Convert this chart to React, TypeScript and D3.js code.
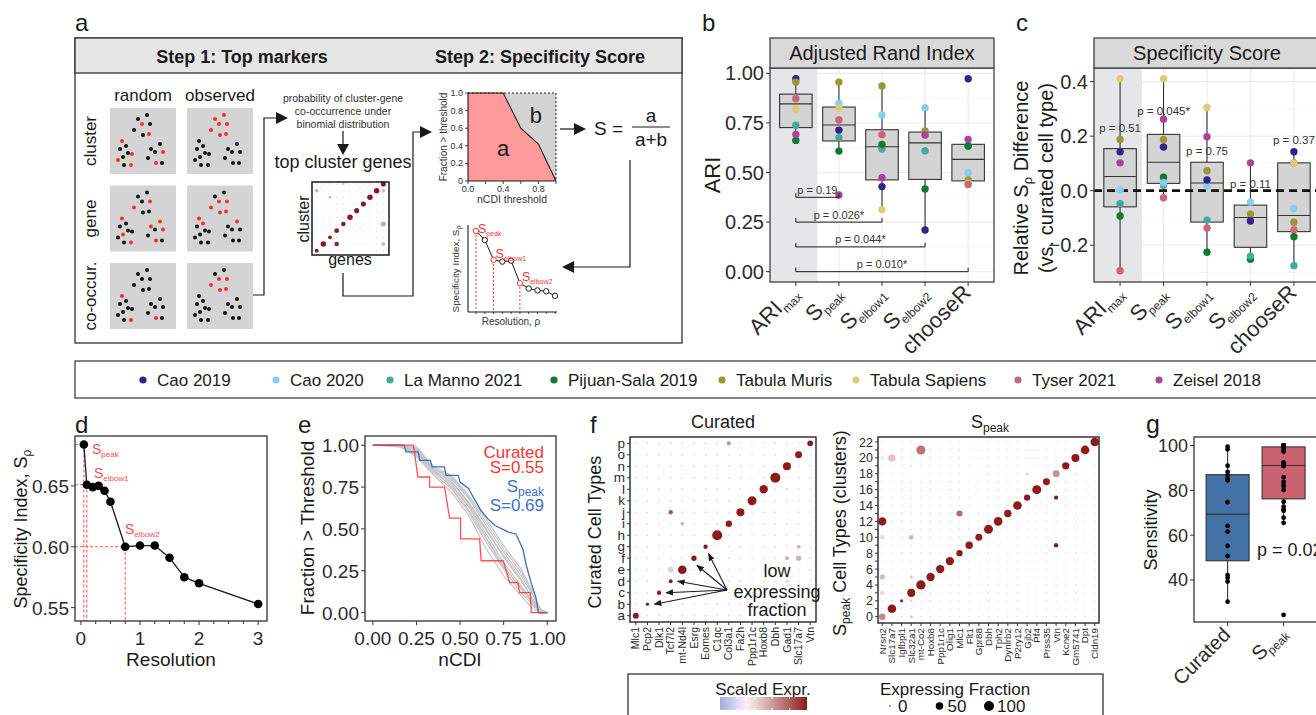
import React, { useEffect, useRef } from "react";
import * as d3 from "d3";

const FONT = '"Liberation Sans", Arial, Helvetica, sans-serif';
const INK = "#1a1a1a";
const AXIS = "#333333";
const TICKTXT = "#2b2b2b";
const SALMON = "#ff4d4d";

// ---------- panel a (schematic) ----------
const tileCols = ["random", "observed"];
const tileRows = ["cluster", "gene", "co-occur."];
// dot layout inside one 66px tile
const tileDots = [[28, 11], [37, 7], [40, 16], [24, 22], [32, 16], [33, 27], [39, 26], [12, 33], [16, 38], [10, 41], [18, 45], [13, 49], [22, 46], [8, 52], [14, 57], [21, 57], [41, 41], [50, 36], [45, 44], [53, 44], [38, 50], [46, 55], [52, 55]];
// red dots per tile, [row][col]
const tileRed = [
  [[4, 6, 7, 12, 13, 15, 19, 21], [0, 1, 2, 3, 4, 5, 6]],
  [[2, 3, 7, 11, 15, 16, 17, 19, 21], [2, 3, 4, 5, 6, 7, 8, 17]],
  [[7, 15, 21], [2, 3, 4, 5, 6]],
];
const miniDiagFrac = [0.3, 0.7, 0.3, 0.5, 0.45, 0.7, 0.6, 0.6, 0.7, 0.7, 0.6];
const miniOffDiag = [[0, 9, 0.3, 0.35], [2, 8, 0.15, 0.3], [3, 1, 0.45, 1.4], [10, 9, 0.3, 0.3], [10, 4, 0.6, 0.45], [10, 1, 0.3, 0.3], [4, 10, 0.1, 0.3]];
const ecdfSketch = [[0, 1], [0.4, 1], [0.6, 0.6], [0.8, 0.42], [1, 0]];
const ecdfTicks = [0, 0.2, 0.4, 0.6, 0.8, 1.0];
const specSketch = [0.9, 0.8, 0.58, 0.56, 0.57, 0.32, 0.26, 0.24, 0.23, 0.18];
const specSketchMarked = [0, 2, 5];
const specSketchNames = ["peak", "elbow1", "elbow2"];

// ---------- panels b / c ----------
const methods = ["ARImax", "Speak", "Selbow1", "Selbow2", "chooseR"];
const methodMain = ["ARI", "S", "S", "S", "chooseR"];
const methodSub = ["max", "peak", "elbow1", "elbow2", ""];
const datasets = ["Cao 2019", "Cao 2020", "La Manno 2021", "Pijuan-Sala 2019", "Tabula Muris", "Tabula Sapiens", "Tyser 2021", "Zeisel 2018"];
const datasetColors = ["#332288", "#88CCEE", "#44AA99", "#117733", "#999933", "#DDCC77", "#CC6677", "#AA4499"];

const ariARImax = [0.973, 0.875, 0.738, 0.662, 0.956, 0.820, 0.872, 0.692];
const ariSpeak = [0.714, 0.849, 0.676, 0.608, 0.956, 0.824, 0.765, 0.387];
const ariSelbow1 = [0.429, 0.790, 0.618, 0.642, 0.936, 0.313, 0.691, 0.474];
const ariSelbow2 = [0.210, 0.827, 0.610, 0.417, 0.709, null, null, 0.689];
const ariChooseR = [0.973, 0.499, 0.634, 0.634, 0.462, 0.445, 0.440, 0.667];
const ariPTargets = ["Speak", "Selbow1", "Selbow2", "chooseR"];
const ariPLabels = ["p = 0.19", "p = 0.026*", "p = 0.044*", "p = 0.010*"];
const ariPLevels = [0.375, 0.25, 0.125, 0.0];

const relARImax = [0.143, 0.002, -0.048, -0.093, 0.188, 0.411, -0.294, 0.102];
const relSpeak = [0.160, 0.029, 0.020, 0.049, 0.188, 0.411, -0.026, 0.262];
const relSelbow1 = [0.039, 0.017, -0.108, -0.226, 0.073, 0.305, -0.137, 0.198];
const relSelbow2 = [-0.111, -0.042, -0.240, -0.252, -0.086, null, null, 0.102];
const relChooseR = [0.143, -0.066, -0.275, -0.169, -0.116, 0.102, -0.144, 0.102];
const relPLabels = ["p = 0.51", "p = 0.045*", "p = 0.75", "p = 0.11", "p = 0.37"];
const relPLevels = [0.23, 0.292, 0.147, 0.025, 0.186];

// ---------- panel d ----------
const resolution = [0.05, 0.1, 0.2, 0.3, 0.4, 0.5, 0.75, 1, 1.25, 1.5, 1.75, 2, 3];
const specIndex = [0.684, 0.651, 0.649, 0.650, 0.646, 0.637, 0.600, 0.601, 0.601, 0.591, 0.575, 0.570, 0.553];
const specMarked = [0, 1, 6];

// ---------- panel e ----------
const curatedCurve = [[0, 1], [0.233, 1], [0.258, 0.81], [0.325, 0.81], [0.325, 0.75], [0.411, 0.75], [0.44, 0.565], [0.503, 0.565], [0.503, 0.44], [0.612, 0.44], [0.621, 0.31], [0.747, 0.31], [0.765, 0.25], [0.784, 0.18], [0.832, 0.18], [0.841, 0.12], [0.902, 0.12], [0.908, 0], [1, 0]];
const speakCurve = [[0, 1], [0.18, 1], [0.19, 0.96], [0.26, 0.96], [0.27, 0.91], [0.33, 0.91], [0.34, 0.87], [0.41, 0.87], [0.42, 0.82], [0.49, 0.82], [0.5, 0.78], [0.55, 0.74], [0.57, 0.7], [0.62, 0.61], [0.66, 0.56], [0.7, 0.52], [0.74, 0.5], [0.78, 0.48], [0.82, 0.47], [0.86, 0.38], [0.88, 0.28], [0.91, 0.17], [0.935, 0.09], [0.95, 0], [1, 0]];
const ecdfGrid = [0, 0.15, 0.25, 0.35, 0.45, 0.55, 0.65, 0.75, 0.85, 0.92, 0.96, 1];
const otherCurves = [
  [1, 1, 0.97, 0.86, 0.8, 0.68, 0.52, 0.36, 0.22, 0.1, 0, 0],
  [1, 1, 0.94, 0.83, 0.74, 0.6, 0.42, 0.26, 0.12, 0.04, 0, 0],
  [1, 1, 0.99, 0.87, 0.82, 0.7, 0.56, 0.4, 0.26, 0.12, 0.02, 0],
  [1, 1, 0.93, 0.82, 0.72, 0.58, 0.38, 0.22, 0.1, 0.02, 0, 0],
  [1, 1, 0.98, 0.86, 0.81, 0.69, 0.54, 0.38, 0.24, 0.11, 0.02, 0],
  [1, 0.99, 0.95, 0.84, 0.76, 0.63, 0.45, 0.28, 0.14, 0.05, 0, 0],
  [1, 1, 0.96, 0.85, 0.78, 0.66, 0.5, 0.33, 0.19, 0.08, 0.01, 0],
  [1, 1, 0.97, 0.84, 0.77, 0.64, 0.47, 0.3, 0.16, 0.06, 0, 0],
  [1, 1, 0.95, 0.86, 0.79, 0.65, 0.49, 0.34, 0.2, 0.07, 0, 0],
  [1, 1, 0.98, 0.85, 0.75, 0.61, 0.44, 0.27, 0.15, 0.05, 0, 0],
];

// ---------- panel f ----------
const curatedGenes = ["Mlc1", "Pcp2", "Dlk1", "Tcf7l2", "mt-Nd4l", "Esrg", "Eomes", "C1qc", "Col3a1", "Fa2h", "Ppp1r1c", "Hoxb8", "Dbh", "Gad1", "Slc17a7", "Vtn"];
const curatedTypes = ["a", "b", "c", "d", "e", "f", "g", "h", "i", "j", "k", "l", "m", "n", "o", "p"];
const curatedDiagPct = [29, 5, 12, 9, 71, 21, 12, 100, 33, 59, 78, 65, 100, 59, 42, 25];
// [type, gene, % expressing, scaled expression]
const curatedOffDiag = [[15, 8, 10, 1.0], [9, 3, 12, 1.6], [8, 4, 5, 0.8], [4, 3, 25, 0.4], [6, 14, 10, 0.7], [5, 13, 8, 0.8], [5, 14, 20, 0.7], [3, 13, 4, 0.4], [1, 13, 4, 0.4], [11, 13, 3, 0.2], [13, 5, 2, 0.2], [4, 8, 4, 0.1]];
const lowFractionTypes = [1, 2, 3, 5, 6];
const speakGenes = ["Nrsn2", "Slc17a7", "Igfbpl1", "Slc32a1", "mt-Co2", "Hoxb8", "Ppp1r1c", "Olig1", "Mlc1", "Flt1", "Gpr88", "Dbh", "Tph2", "Dynlrb2", "P2ry12", "Gjb2", "Pf4", "Prss35", "Vtn", "Kcne2", "Gm5741", "Dpt", "Cldn19"];
const speakDiagPct = [37, 71, 4, 59, 85, 65, 65, 65, 33, 48, 42, 78, 71, 48, 71, 33, 78, 42, 42, 48, 59, 71, 71];
const speakDiagExpr = [1.1, 2.2, 2.2, 2.2, 2.2, 2.2, 2.2, 2.2, 2.2, 2.2, 2.2, 2.2, 2.2, 2.2, 2.2, 2.2, 2.2, 2.2, 1.0, 2.2, 2.2, 2.2, 2.2];
const speakOffDiag = [[0, 3, 4, 0.5], [1, 0, 1, 0.2], [2, 1, 1, 0.3], [2, 3, 2, 0.4], [3, 0, 12, 0.3], [5, 0, 21, 0.6], [5, 3, 5, 0.5], [10, 0, 12, 0.3], [10, 3, 15, 0.7], [12, 0, 65, 2.2], [13, 8, 30, 1.4], [20, 0, 5, 0.2], [20, 1, 50, 0.5], [21, 4, 80, 1.3], [18, 15, 2, 0.5], [15, 18, 12, 2.2], [9, 18, 12, 2.2]];
const sizeLegend = [0, 50, 100];

// ---------- panel g ----------
const sensGroups = ["Curated", "Speak"];
const sensCurated = [99.5, 98.3, 91.0, 88.2, 86.6, 85.1, 84.5, 74.7, 64.1, 61.6, 55.2, 50.7, 42.2, 41.0, 39.3, 30.3];
const sensSpeak = [100, 100, 100, 100, 100, 99.8, 99.5, 99.0, 98.0, 97.3, 92.5, 91.6, 91.3, 90.8, 85.8, 83.8, 82.3, 81.9, 80.1, 74.9, 72.7, 71.5, 70.9, 67.8, 65.5, 24.4];
const sensColors = ["#4272a6", "#cb6271"];

function txt(g: any, x: number, y: number, s: string, size: number, o: any = {}) {
  const t = g.append("text")
    .attr("x", x).attr("y", y)
    .attr("font-family", FONT)
    .attr("font-size", size)
    .attr("fill", o.fill || INK)
    .attr("text-anchor", o.anchor || "start");
  if (o.weight) t.attr("font-weight", o.weight);
  if (o.rotate) t.attr("transform", `rotate(${o.rotate},${x},${y})`);
  if (s) t.text(s);
  return t;
}

// main text + lowered subscript (+ optional trailing text)
function subTxt(g: any, x: number, y: number, main: string, sub: string, size: number, subSize: number, o: any = {}) {
  const t = txt(g, x, y, "", size, o);
  t.append("tspan").text(main);
  if (sub) t.append("tspan").attr("font-size", subSize).attr("dy", size * 0.22).text(sub);
  if (o.after) t.append("tspan").attr("dy", -size * 0.22).text(o.after);
  return t;
}

function hline(g: any, x1: number, x2: number, y: number, stroke: string, w = 1) {
  return g.append("line").attr("x1", x1).attr("x2", x2).attr("y1", y).attr("y2", y).attr("stroke", stroke).attr("stroke-width", w);
}
function vline(g: any, x: number, y1: number, y2: number, stroke: string, w = 1) {
  return g.append("line").attr("x1", x).attr("x2", x).attr("y1", y1).attr("y2", y2).attr("stroke", stroke).attr("stroke-width", w);
}
function tri(g: any, tip: number[], dir: string, len = 11, half = 6) {
  const [x, y] = tip;
  let pts;
  if (dir === "right") pts = [[x, y], [x - len, y - half], [x - len, y + half]];
  else if (dir === "left") pts = [[x, y], [x + len, y - half], [x + len, y + half]];
  else pts = [[x, y], [x - half, y - len], [x + half, y - len]];
  g.append("polygon").attr("points", pts.map(p => p.join(",")).join(" ")).attr("fill", INK);
}

function boxStats(vals: any[]) {
  const v = vals.filter(d => d != null);
  const q1 = d3.quantile(v, 0.25) as number;
  const med = d3.quantile(v, 0.5) as number;
  const q3 = d3.quantile(v, 0.75) as number;
  const iqr = q3 - q1;
  const lo = d3.min(v.filter(d => d >= q1 - 1.5 * iqr)) as number;
  const hi = d3.max(v.filter(d => d <= q3 + 1.5 * iqr)) as number;
  return { q1, med, q3, lo, hi };
}

function drawBox(g: any, cx: number, w: number, st: any, y: any, fill: string) {
  vline(g, cx, y(st.hi), y(st.q3), AXIS, 1.1);
  vline(g, cx, y(st.q1), y(st.lo), AXIS, 1.1);
  g.append("rect").attr("x", cx - w / 2).attr("y", y(st.q3)).attr("width", w)
    .attr("height", y(st.q1) - y(st.q3)).attr("fill", fill).attr("stroke", AXIS).attr("stroke-width", 1.1);
  hline(g, cx - w / 2, cx + w / 2, y(st.med), AXIS, 1.1);
}

function drawPanelA(svg: any) {
  const g = svg.append("g");
  txt(g, 75, 31, "a", 24);
  g.append("rect").attr("x", 75).attr("y", 38).attr("width", 607).attr("height", 305).attr("fill", "#fff").attr("stroke", AXIS).attr("stroke-width", 1.3);
  g.append("rect").attr("x", 75).attr("y", 38).attr("width", 607).attr("height", 35).attr("fill", "#e6e6e6").attr("stroke", AXIS).attr("stroke-width", 1.3);
  txt(g, 242, 63, "Step 1: Top markers", 18, { anchor: "middle", weight: "bold" });
  txt(g, 540, 63, "Step 2: Specificity Score", 18, { anchor: "middle", weight: "bold" });

  // tiles
  const cx = d3.scalePoint().domain(tileCols).range([110, 187]);
  const ry = d3.scalePoint().domain(tileRows).range([108, 263]);
  tileCols.forEach(c => txt(g, (cx(c) as number) + 33, 101, c, 17, { anchor: "middle" }));
  tileRows.forEach((r, ri) => {
    const y0 = ry(r) as number;
    txt(g, 96, y0 + 33, r, 17, { anchor: "middle", rotate: -90 });
    tileCols.forEach((c, ci) => {
      const x0 = cx(c) as number;
      g.append("rect").attr("x", x0).attr("y", y0).attr("width", 66).attr("height", 66).attr("fill", "#d4d4d4");
      const red = new Set(tileRed[ri][ci]);
      tileDots.forEach((d, i) => {
        g.append("circle").attr("cx", x0 + d[0]).attr("cy", y0 + d[1]).attr("r", 2)
          .attr("fill", red.has(i) ? "#ff2e2e" : "#111");
      });
    });
  });
  // arrow to top genes text
  g.append("path").attr("d", "M253,295 H264 V118 H278").attr("fill", "none").attr("stroke", INK).attr("stroke-width", 1.2);
  tri(g, [288, 118], "right", 12, 6);
  ["probability of cluster-gene", "co-occurrence under", "binomial distribution"].forEach((s, i) =>
    txt(g, 343, 102 + i * 13, s, 10.5, { anchor: "middle", fill: "#333" }));
  vline(g, 343, 131, 145, INK, 1.2);
  tri(g, [343, 155], "down", 11, 6);
  txt(g, 343, 168, "top cluster genes", 18, { anchor: "middle" });

  // mini dot plot
  const mx = d3.scalePoint().domain(d3.range(11).map(String)).range([316.7, 383.3]);
  const my = d3.scalePoint().domain(d3.range(11).map(String)).range([250.7, 184]);
  const mr = d3.scaleSqrt().domain([0, 1]).range([0.4, 3.2]);
  const mcol = d3.scaleLinear<string>().domain([0, 1.5]).range(["#f3dede", "#8b1a1a"]);
  d3.range(11).forEach(i => d3.range(11).forEach(j => {
    g.append("circle").attr("cx", mx(String(i))).attr("cy", my(String(j))).attr("r", 0.5).attr("fill", "#c8c8e0");
  }));
  miniOffDiag.forEach(d => g.append("circle").attr("cx", mx(String(d[0]))).attr("cy", my(String(d[1]))).attr("r", mr(d[2])).attr("fill", mcol(d[3])));
  miniDiagFrac.forEach((f, i) => g.append("circle").attr("cx", mx(String(i))).attr("cy", my(String(i))).attr("r", mr(f)).attr("fill", "#8b1a1a"));
  g.append("rect").attr("x", 312).attr("y", 182).attr("width", 77).attr("height", 73).attr("fill", "none").attr("stroke", INK).attr("stroke-width", 1.5);
  txt(g, 309, 219, "cluster", 16, { anchor: "middle", rotate: -90 });
  txt(g, 350, 265, "genes", 16, { anchor: "middle" });
  g.append("path").attr("d", "M343,273 V296 H413 V132 H421").attr("fill", "none").attr("stroke", INK).attr("stroke-width", 1.2);
  tri(g, [432, 132], "right", 12, 6);

  // mini ECDF sketch
  const ex = d3.scaleLinear().domain([0, 1]).range([468, 556]);
  const ey = d3.scaleLinear().domain([0, 1]).range([181, 93]);
  g.append("rect").attr("x", 468).attr("y", 93).attr("width", 88).attr("height", 88).attr("fill", "#d3d3d3");
  g.append("path").attr("d", d3.area<any>().x(d => ex(d[0])).y0(ey(0)).y1(d => ey(d[1]))(ecdfSketch)).attr("fill", "#ff9a9a");
  g.append("path").attr("d", d3.line<any>().x(d => ex(d[0])).y(d => ey(d[1]))(ecdfSketch)).attr("fill", "none").attr("stroke", INK).attr("stroke-width", 1.1);
  hline(g, 468, 556, 93, INK, 1).attr("stroke-dasharray", "2,2");
  vline(g, 556, 93, 181, INK, 1).attr("stroke-dasharray", "2,2");
  vline(g, 468, 93, 181, INK, 1.1);
  hline(g, 468, 556, 181, INK, 1.1);
  ecdfTicks.forEach(t => {
    hline(g, 465, 468, ey(t), INK, 0.8);
    vline(g, ex(t), 181, 184, INK, 0.8);
    txt(g, 463, ey(t) + 3, t === 0 ? "0" : d3.format(".1f")(t), 9, { anchor: "end", fill: "#333" });
  });
  [0, 0.4, 0.8].forEach(t => txt(g, ex(t), 192, d3.format(".1f")(t), 9, { anchor: "middle", fill: "#333" }));
  txt(g, 512, 203, "nCDI threshold", 10.5, { anchor: "middle", fill: "#333" });
  txt(g, 447, 137, "Fraction > threshold", 10, { anchor: "middle", rotate: -90, fill: "#333" });
  txt(g, ex(0.4), 156, "a", 22, { anchor: "middle" });
  txt(g, ex(0.77), 123, "b", 22, { anchor: "middle" });
  hline(g, 560, 575, 129, INK, 1.2);
  tri(g, [586, 129], "right", 12, 6);
  txt(g, 594, 135, "S =", 19);
  txt(g, 651, 122, "a", 19, { anchor: "middle" });
  hline(g, 632, 670, 127, INK, 1.1);
  txt(g, 651, 146, "a+b", 19, { anchor: "middle" });
  g.append("path").attr("d", "M630,160 V267 H574").attr("fill", "none").attr("stroke", INK).attr("stroke-width", 1.2);
  tri(g, [562, 267], "left", 12, 6);

  // mini specificity sketch
  const sx = d3.scaleLinear().domain([0, 9]).range([476, 555]);
  const sy = d3.scaleLinear().domain([0, 1]).range([312, 222]);
  vline(g, 468, 225, 312, INK, 1.1);
  hline(g, 468, 557, 312, INK, 1.1);
  specSketch.forEach((v, i) => vline(g, sx(i), 312, 314, INK, 0.8));
  specSketchMarked.forEach(i => vline(g, sx(i), sy(specSketch[i]), 312, "#ff3333", 1).attr("stroke-dasharray", "2,2"));
  g.append("path").attr("d", d3.line<any>().x((d, i) => sx(i)).y(d => sy(d))(specSketch)).attr("fill", "none").attr("stroke", INK).attr("stroke-width", 1);
  specSketch.forEach((v, i) => g.append("circle").attr("cx", sx(i)).attr("cy", sy(v)).attr("r", 2.7).attr("fill", "#fff")
    .attr("stroke", specSketchMarked.includes(i) ? "#ff3333" : INK).attr("stroke-width", 1));
  specSketchMarked.forEach((i, k) => subTxt(g, sx(i) + 2, sy(specSketch[i]) + 2 - (k === 0 ? 0 : 4), "S", specSketchNames[k], 12.5, 7, { fill: "#ff3333" }));
  subTxt(g, 459, 269, "Specificity Index, S", "ρ", 9.8, 7, { anchor: "middle", rotate: -90, fill: "#333" });
  txt(g, 511, 325, "Resolution, ρ", 10, { anchor: "middle", fill: "#333" });
}

function drawBoxPanel(svg: any, cfg: any) {
  const { left, right, top, bottom, yDomain, series, majors, minors, title, titleX, reverse, fmt } = cfg;
  const g = svg.append("g");
  const x = d3.scalePoint().domain(methods).range([left, right]).padding(0.6);
  const y = d3.scaleLinear().domain(yDomain).range([bottom, top]);
  g.append("rect").attr("x", left).attr("y", top).attr("width", right - left).attr("height", bottom - top).attr("fill", "#fff");
  minors.forEach((t: number) => hline(g, left, right, y(t), "#f2f2f2", 0.7));
  majors.forEach((t: number) => hline(g, left, right, y(t), "#ebebeb", 1.1));
  methods.forEach(m => vline(g, x(m) as number, top, bottom, "#ebebeb", 1.1));
  const shadeR = ((x(methods[0]) as number) + (x(methods[1]) as number)) / 2;
  g.append("rect").attr("x", left).attr("y", top).attr("width", shadeR - left).attr("height", bottom - top).attr("fill", "#e5e6e8");

  series.forEach((vals: any[], mi: number) => drawBox(g, x(methods[mi]) as number, 32.5, boxStats(vals), y, "#d4d4d4"));
  if (cfg.zeroLine) hline(g, left, right, y(0), "#111", 2.8).attr("stroke-dasharray", "8,5");
  series.forEach((vals: any[], mi: number) => {
    const order = reverse ? d3.range(vals.length).reverse() : d3.range(vals.length);
    order.forEach(k => {
      if (vals[k] == null) return;
      g.append("circle").attr("cx", x(methods[mi])).attr("cy", y(vals[k])).attr("r", 3.7).attr("fill", datasetColors[k]);
    });
  });
  if (cfg.brackets) {
    cfg.brackets.targets.forEach((tm: string, i: number) => {
      const x1 = x(methods[0]) as number, x2 = x(tm) as number, yy = y(cfg.brackets.levels[i]);
      g.append("path").attr("d", `M${x1},${yy - 4} V${yy} H${x2} V${yy - 4}`).attr("fill", "none").attr("stroke", INK).attr("stroke-width", 1);
      txt(g, (x1 + x2) / 2, yy - 3.5, cfg.brackets.labels[i], 11, { anchor: "middle", fill: "#333" });
    });
  }
  if (cfg.pvals) {
    cfg.pvals.labels.forEach((s: string, i: number) => txt(g, x(methods[i]) as number, y(cfg.pvals.levels[i]) + 4, s, 11.5, { anchor: "middle", fill: "#333" }));
  }
  g.append("rect").attr("x", left).attr("y", top).attr("width", right - left).attr("height", bottom - top).attr("fill", "none").attr("stroke", AXIS).attr("stroke-width", 1.2);
  g.append("rect").attr("x", left).attr("y", 38).attr("width", right - left).attr("height", top - 38).attr("fill", "#d9d9d9").attr("stroke", AXIS).attr("stroke-width", 1.2);
  txt(g, titleX, 60, title, 20, { anchor: "middle" });
  majors.forEach((t: number) => {
    hline(g, left - 4, left, y(t), AXIS, 1);
    txt(g, left - 6, y(t) + 7, fmt(t), 20, { anchor: "end", fill: TICKTXT });
  });
  methods.forEach((m, i) => {
    const xx = x(m) as number;
    vline(g, xx, bottom, bottom + 4, AXIS, 1);
    subTxt(g, xx + 4, bottom + 12, methodMain[i], methodSub[i], 22, 12, { anchor: "end", rotate: -45, fill: TICKTXT });
  });
  return g;
}

function drawPanelB(svg: any) {
  txt(svg, 702, 31, "b", 24);
  const g = drawBoxPanel(svg, {
    left: 770, right: 994, top: 68, bottom: 282, yDomain: [-0.052, 1.027],
    series: [ariARImax, ariSpeak, ariSelbow1, ariSelbow2, ariChooseR],
    majors: [0, 0.25, 0.5, 0.75, 1], minors: [0.125, 0.375, 0.625, 0.875],
    title: "Adjusted Rand Index", titleX: 882, reverse: false, fmt: d3.format(".2f"),
    brackets: { targets: ariPTargets, labels: ariPLabels, levels: ariPLevels },
  });
  txt(g, 720, 175, "ARI", 22, { anchor: "middle", rotate: -90 });
}

function drawPanelC(svg: any) {
  txt(svg, 1016, 31, "c", 24);
  const g = drawBoxPanel(svg, {
    left: 1094, right: 1320, top: 68, bottom: 282, yDomain: [-0.335, 0.45],
    series: [relARImax, relSpeak, relSelbow1, relSelbow2, relChooseR],
    majors: [-0.2, 0, 0.2, 0.4], minors: [-0.3, -0.1, 0.1, 0.3],
    title: "Specificity Score", titleX: 1207, reverse: true, fmt: d3.format(".1f"),
    zeroLine: true, pvals: { labels: relPLabels, levels: relPLevels },
  });
  subTxt(g, 1028, 178, "Relative S", "ρ", 20, 13, { anchor: "middle", rotate: -90, after: " Difference" });
  txt(g, 1053, 178, "(vs. curated cell type)", 20, { anchor: "middle", rotate: -90 });
}

function drawLegend(svg: any) {
  const g = svg.append("g");
  g.append("rect").attr("x", 75).attr("y", 361).attr("width", 1260).attr("height", 37).attr("fill", "#fff").attr("stroke", AXIS).attr("stroke-width", 1.2);
  const dotX = [143, 276, 390, 554, 722, 856, 1018, 1159];
  datasets.forEach((d, i) => {
    g.append("circle").attr("cx", dotX[i]).attr("cy", 380).attr("r", 3.6).attr("fill", datasetColors[i]);
    txt(g, dotX[i] + 14, 386, d, 17);
  });
}

function drawPanelD(svg: any) {
  const g = svg.append("g");
  const L = 75, R = 267, T = 436, B = 621;
  const x = d3.scaleLinear().domain([-0.1, 3.15]).range([L, R]);
  const y = d3.scaleLinear().domain([0.539, 0.691]).range([B, T]);
  txt(g, 75, 433, "d", 24);
  specMarked.forEach(i => {
    hline(g, L, x(resolution[i]), y(specIndex[i]), SALMON, 1).attr("stroke-dasharray", "3,2");
    vline(g, x(resolution[i]), y(specIndex[i]), B, SALMON, 1).attr("stroke-dasharray", "3,2");
  });
  g.append("path").attr("d", d3.line<any>().x((d, i) => x(resolution[i])).y(d => y(d))(specIndex)).attr("fill", "none").attr("stroke", INK).attr("stroke-width", 1.3);
  specIndex.forEach((v, i) => g.append("circle").attr("cx", x(resolution[i])).attr("cy", y(v)).attr("r", 4.3).attr("fill", "#000"));
  subTxt(g, 92, 454, "S", "peak", 14, 8, { fill: SALMON });
  subTxt(g, 94, 478, "S", "elbow1", 14, 8, { fill: SALMON });
  subTxt(g, 125, 534, "S", "elbow2", 14, 8, { fill: SALMON });
  g.append("rect").attr("x", L).attr("y", T).attr("width", R - L).attr("height", B - T).attr("fill", "none").attr("stroke", AXIS).attr("stroke-width", 1.3);
  [0.55, 0.6, 0.65].forEach(t => {
    hline(g, L - 4, L, y(t), AXIS, 1);
    txt(g, L - 6, y(t) + 7, d3.format(".2f")(t), 19, { anchor: "end", fill: TICKTXT });
  });
  d3.range(0, 3.01, 0.25).forEach(t => vline(g, x(t), B, B + (Number.isInteger(t) ? 4 : 3), AXIS, 1));
  [0, 1, 2, 3].forEach(t => txt(g, x(t), 645, String(t), 19, { anchor: "middle", fill: TICKTXT }));
  txt(g, (L + R) / 2, 666, "Resolution", 19, { anchor: "middle" });
  subTxt(g, 27, 529, "Specificity Index, S", "ρ", 18, 12, { anchor: "middle", rotate: -90 });
}

function drawPanelE(svg: any) {
  const g = svg.append("g");
  const L = 365, R = 556, T = 436, B = 621;
  const x = d3.scaleLinear().domain([-0.045, 1.05]).range([L, R]);
  const y = d3.scaleLinear().domain([-0.05, 1.055]).range([B, T]);
  txt(g, 298, 433, "e", 24);
  const line = d3.line<any>().x(d => x(d[0])).y(d => y(d[1]));
  otherCurves.forEach(c => g.append("path").attr("d", line(ecdfGrid.map((t, i) => [t, c[i]]))).attr("fill", "none").attr("stroke", "#c6c6c6").attr("stroke-width", 1.2));
  g.append("path").attr("d", line(speakCurve)).attr("fill", "none").attr("stroke", "#3f6fc0").attr("stroke-width", 1.3);
  g.append("path").attr("d", line(curatedCurve)).attr("fill", "none").attr("stroke", "#ff3333").attr("stroke-width", 1.3).attr("stroke-opacity", 0.85);
  g.append("rect").attr("x", L).attr("y", T).attr("width", R - L).attr("height", B - T).attr("fill", "none").attr("stroke", AXIS).attr("stroke-width", 1.3);
  [0, 0.25, 0.5, 0.75, 1].forEach(t => {
    hline(g, L - 4, L, y(t), AXIS, 1);
    vline(g, x(t), B, B + 4, AXIS, 1);
    txt(g, L - 6, y(t) + 7, d3.format(".2f")(t), 19, { anchor: "end", fill: TICKTXT });
    txt(g, x(t), 645, d3.format(".2f")(t), 19, { anchor: "middle", fill: TICKTXT });
  });
  txt(g, 460, 666, "nCDI", 19, { anchor: "middle" });
  txt(g, 314, 528, "Fraction > Threshold", 19, { anchor: "middle", rotate: -90 });
  txt(g, 544, 458, "Curated", 17, { anchor: "end", fill: "#ff3333" });
  txt(g, 544, 473, "S=0.55", 17, { anchor: "end", fill: "#ff3333" });
  subTxt(g, 544, 492, "S", "peak", 17, 12, { anchor: "end", fill: "#3f6fc0" });
  txt(g, 544, 511, "S=0.69", 17, { anchor: "end", fill: "#3f6fc0" });
}

const sizeScale = d3.scaleSqrt().domain([0, 100]).range([0.7, 5]);
const exprColor = d3.scaleLinear<string>().domain([-1, 0, 2.2]).range(["#a9a9dc", "#fbf6f6", "#8e1b1b"]).clamp(true);

function drawPanelF(svg: any) {
  const g = svg.append("g");
  txt(g, 590, 433, "f", 24);
  const defs = svg.append("defs");
  defs.append("marker").attr("id", "ah").attr("viewBox", "0 0 10 10").attr("refX", 9).attr("refY", 5)
    .attr("markerWidth", 7).attr("markerHeight", 7).attr("orient", "auto")
    .append("path").attr("d", "M0,1 L10,5 L0,9 z").attr("fill", INK);

  // curated
  {
    const L = 630, R = 816, T = 437, B = 622;
    const x = d3.scalePoint().domain(curatedGenes).range([L, R]).padding(0.5);
    const y = d3.scalePoint().domain(curatedTypes).range([B, T]).padding(0.55);
    curatedTypes.forEach(t => curatedGenes.forEach(gn => g.append("circle").attr("cx", x(gn)).attr("cy", y(t)).attr("r", 0.7).attr("fill", exprColor(-0.6))));
    curatedOffDiag.forEach(d => g.append("circle").attr("cx", x(curatedGenes[d[1]])).attr("cy", y(curatedTypes[d[0]])).attr("r", sizeScale(d[2])).attr("fill", exprColor(d[3])));
    curatedDiagPct.forEach((p, i) => g.append("circle").attr("cx", x(curatedGenes[i])).attr("cy", y(curatedTypes[i])).attr("r", sizeScale(p)).attr("fill", exprColor(2.2)));
    g.append("rect").attr("x", L).attr("y", T).attr("width", R - L).attr("height", B - T).attr("fill", "none").attr("stroke", AXIS).attr("stroke-width", 1.5);
    curatedTypes.forEach(t => {
      hline(g, L - 3, L, y(t) as number, AXIS, 1);
      txt(g, L - 5, (y(t) as number) + 4.5, t, 13.5, { anchor: "end", fill: TICKTXT });
    });
    curatedGenes.forEach(gn => {
      vline(g, x(gn) as number, B, B + 3, AXIS, 1);
      txt(g, (x(gn) as number) + 3.6, B + 5, gn, 10.5, { anchor: "end", rotate: -90, fill: TICKTXT });
    });
    txt(g, (L + R) / 2, 428, "Curated", 18, { anchor: "middle" });
    txt(g, 601, 532, "Curated Cell Types", 18, { anchor: "middle", rotate: -90 });
    txt(g, 777, 577, "low", 18, { anchor: "middle" });
    txt(g, 777, 598, "expressing", 18, { anchor: "middle" });
    txt(g, 777, 616, "fraction", 18, { anchor: "middle" });
    lowFractionTypes.forEach(i => {
      const px = x(curatedGenes[i]) as number, py = y(curatedTypes[i]) as number;
      const tip = i < 4 ? [px + 7, py] : [px + 3, py + 7];
      g.append("line").attr("x1", 727).attr("y1", 590).attr("x2", tip[0]).attr("y2", tip[1])
        .attr("stroke", INK).attr("stroke-width", 1.1).attr("marker-end", "url(#ah)");
    });
  }
  // S_peak
  {
    const L = 878, R = 1099, T = 437, B = 623;
    const x = d3.scalePoint().domain(speakGenes).range([L, R]).padding(0.44);
    const y = d3.scaleLinear().domain([0, 22]).range([616.7, 442]);
    d3.range(23).forEach(r => speakGenes.forEach(gn => g.append("circle").attr("cx", x(gn)).attr("cy", y(r)).attr("r", 0.6).attr("fill", exprColor(-0.6))));
    speakOffDiag.forEach(d => g.append("circle").attr("cx", x(speakGenes[d[1]])).attr("cy", y(d[0])).attr("r", sizeScale(d[2])).attr("fill", exprColor(d[3])));
    speakDiagPct.forEach((p, i) => g.append("circle").attr("cx", x(speakGenes[i])).attr("cy", y(i)).attr("r", sizeScale(p)).attr("fill", exprColor(speakDiagExpr[i])));
    g.append("rect").attr("x", L).attr("y", T).attr("width", R - L).attr("height", B - T).attr("fill", "none").attr("stroke", AXIS).attr("stroke-width", 1.5);
    d3.range(23).forEach(r => {
      hline(g, L - 3, L, y(r), AXIS, 1);
      if (r % 2 === 0) txt(g, L - 5, y(r) + 4.5, String(r), 12.5, { anchor: "end", fill: TICKTXT });
    });
    speakGenes.forEach(gn => {
      vline(g, x(gn) as number, B, B + 3, AXIS, 1);
      txt(g, (x(gn) as number) + 3.4, B + 5, gn, 9.8, { anchor: "end", rotate: -90, fill: TICKTXT });
    });
    subTxt(g, 990, 428, "S", "peak", 18, 12, { anchor: "middle" });
    subTxt(g, 846, 533, "S", "peak", 18, 12, { anchor: "middle", rotate: -90, after: " Cell Types (clusters)" });
  }
  // legend
  g.append("rect").attr("x", 628).attr("y", 674).attr("width", 475).attr("height", 60).attr("fill", "#fff").attr("stroke", AXIS).attr("stroke-width", 1.3);
  txt(g, 763, 695, "Scaled Expr.", 17, { anchor: "middle" });
  const grad = defs.append("linearGradient").attr("id", "exprGrad");
  d3.range(0, 1.001, 0.1).forEach(t => grad.append("stop").attr("offset", t).attr("stop-color", exprColor(-1 + t * 3.2)));
  g.append("rect").attr("x", 720).attr("y", 697).attr("width", 87).attr("height", 13).attr("fill", "url(#exprGrad)");
  [0.2, 0.4, 0.6, 0.8].forEach(t => {
    vline(g, 720 + 87 * t, 697, 699, "#fff", 1);
    vline(g, 720 + 87 * t, 708, 710, "#fff", 1);
  });
  txt(g, 955, 695, "Expressing Fraction", 17, { anchor: "middle" });
  const lx = d3.scalePoint().domain(sizeLegend.map(String)).range([890, 989]);
  sizeLegend.forEach(p => {
    g.append("circle").attr("cx", lx(String(p))).attr("cy", 706).attr("r", sizeScale(p)).attr("fill", "#000");
    txt(g, (lx(String(p)) as number) + 8, 712, String(p), 17);
  });
}

function drawPanelG(svg: any) {
  const g = svg.append("g");
  const L = 1194, T = 437, B = 622;
  const x = d3.scalePoint().domain(sensGroups).range([L, 1317.2]).padding(0.6);
  const y = d3.scaleLinear().domain([21.25, 103.8]).range([B, T]);
  txt(g, 1146, 433, "g", 25);
  [sensCurated, sensSpeak].forEach((vals, i) => {
    const cx = x(sensGroups[i]) as number;
    drawBox(g, cx, 43, boxStats(vals), y, sensColors[i]);
    vals.forEach(v => g.append("circle").attr("cx", cx).attr("cy", y(v)).attr("r", 2.4).attr("fill", "#000"));
  });
  g.append("rect").attr("x", L).attr("y", T).attr("width", 140).attr("height", B - T).attr("fill", "none").attr("stroke", AXIS).attr("stroke-width", 1.3);
  [40, 60, 80, 100].forEach(t => {
    hline(g, L - 4, L, y(t), AXIS, 1);
    txt(g, L - 6, y(t) + 6.5, String(t), 18, { anchor: "end", fill: TICKTXT });
  });
  sensGroups.forEach((s, i) => {
    const xx = x(s) as number;
    vline(g, xx, B, B + 4, AXIS, 1);
    if (i === 0) txt(g, xx + 4, B + 14, "Curated", 20, { anchor: "end", rotate: -45, fill: TICKTXT });
    else subTxt(g, xx + 4, B + 12, "S", "peak", 20, 12, { anchor: "end", rotate: -45, fill: TICKTXT });
  });
  txt(g, 1157, 530, "Sensitivity", 18, { anchor: "middle", rotate: -90 });
  txt(g, 1257, 556, "p = 0.02*", 18);
}

export default function App() {
  const ref = useRef<SVGSVGElement>(null);
  useEffect(() => {
    const svg = d3.select(ref.current);
    svg.selectAll("*").remove();
    drawPanelA(svg);
    drawPanelB(svg);
    drawPanelC(svg);
    drawLegend(svg);
    drawPanelD(svg);
    drawPanelE(svg);
    drawPanelF(svg);
    drawPanelG(svg);
  }, []);
  return (
    <svg ref={ref} width={1316} height={715}
      style={{ position: "absolute", left: 0, top: 0, background: "#fff", display: "block" }} />
  );
}
